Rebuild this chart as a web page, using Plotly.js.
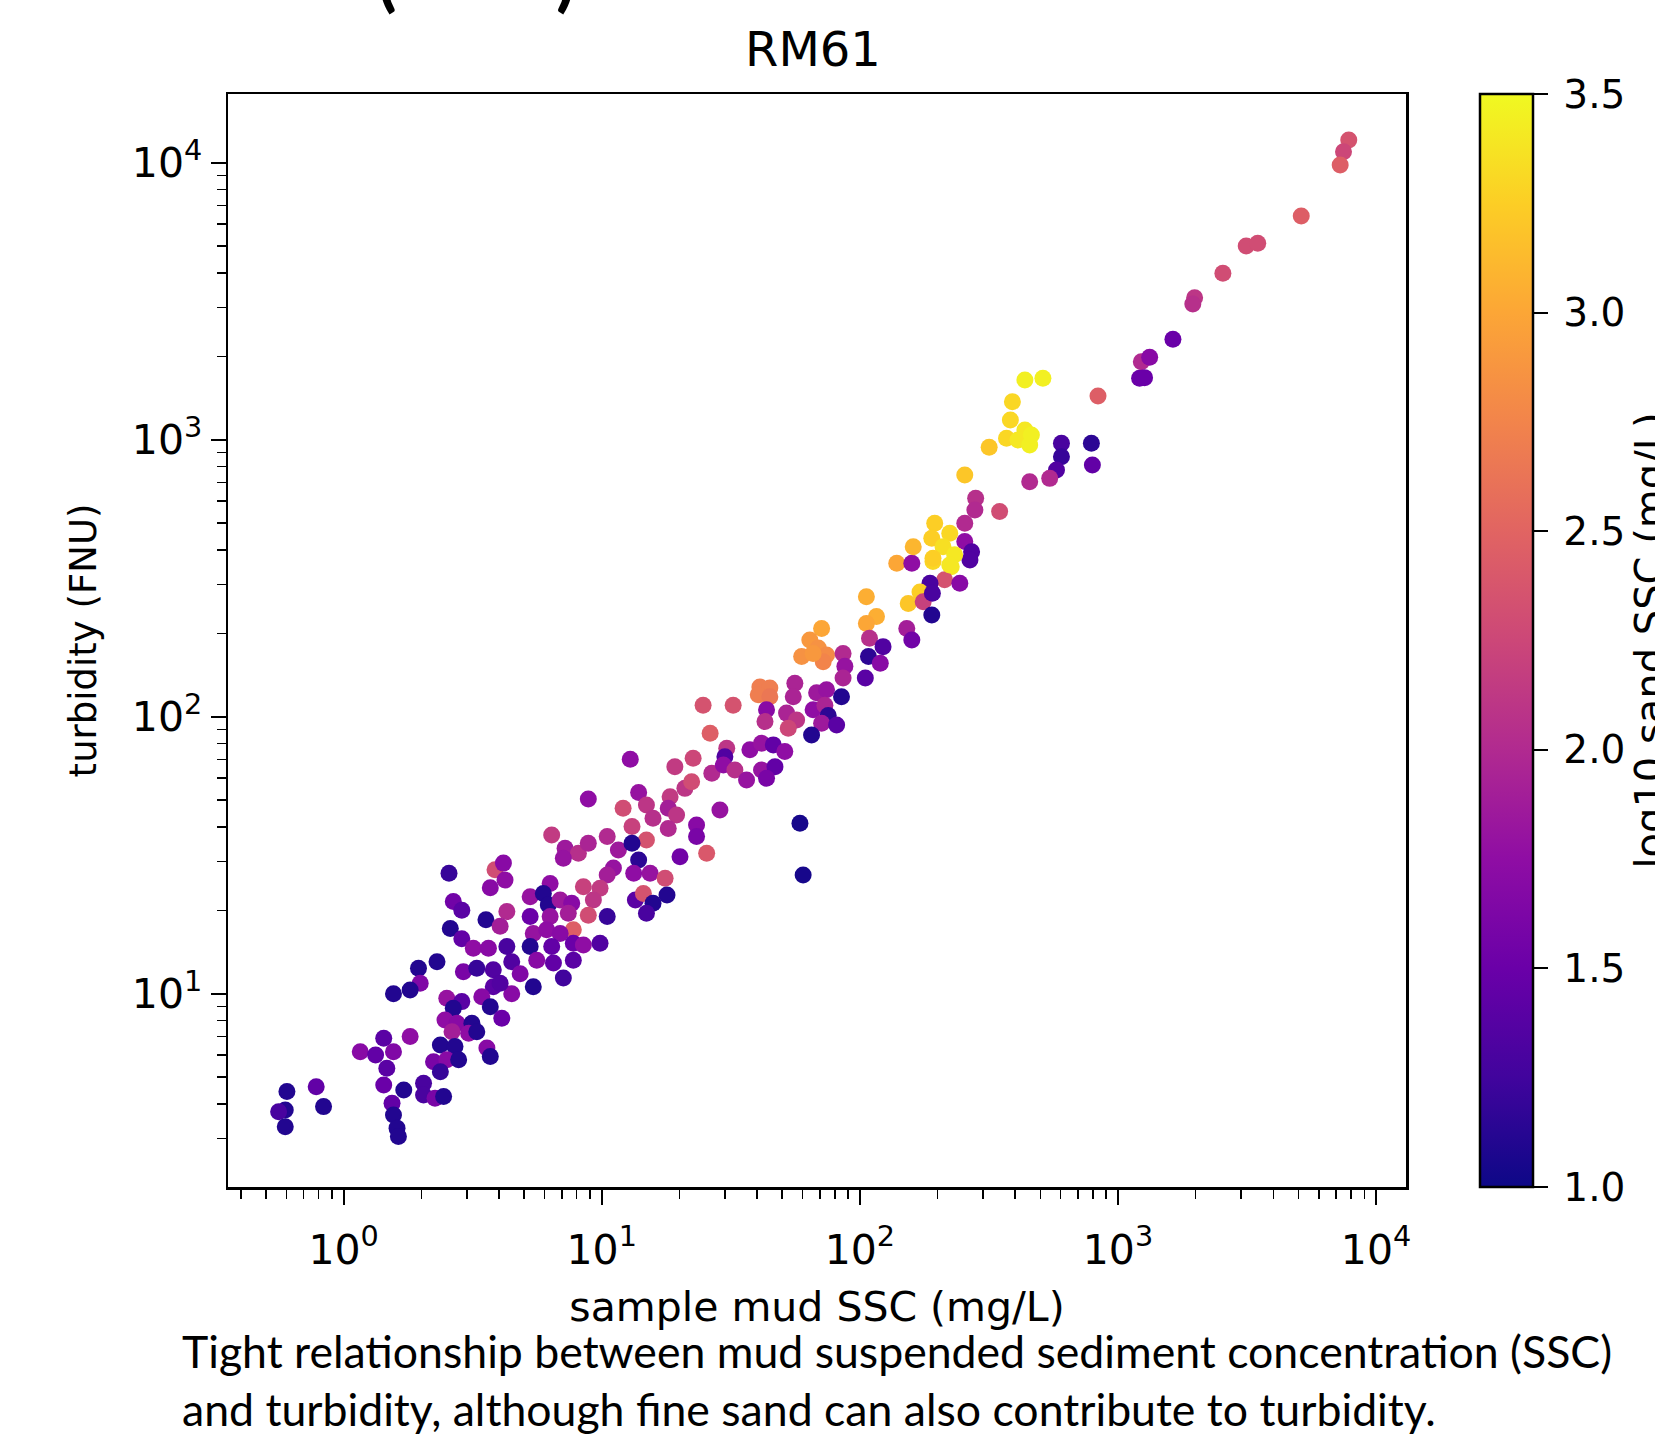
<!DOCTYPE html>
<html>
<head>
<meta charset="utf-8">
<script src="https://cdn.plot.ly/plotly-3.0.1.min.js"></script>
<style>
html,body{margin:0;padding:0;background:#ffffff;}
#chart{width:1655px;height:1437px;}
</style>
</head>
<body>
<div id="chart"></div>
<script>
// sample mud SSC (mg/L)
const mudSSC = [
  2.56,3.86,4.16,4.22,3.70,2.66,2.87,2.59,3.56,4.29,4.04,2.87,3.18,3.64,4.29,2.30,1.95,2.91,3.28,3.80,
  1.98,1.81,1.56,4.48,3.80,4.48,2.51,2.87,2.66,3.43,3.70,4.10,2.47,2.75,3.14,2.63,3.05,3.28,2.37,2.70,
  3.59,3.70,2.23,2.51,2.79,2.37,1.81,1.43,1.16,1.33,1.56,1.47,1.43,1.71,2.04,2.04,2.26,2.44,1.54,1.56,
  1.61,1.63,0.603,0.594,0.56,0.594,0.783,0.836,
  24.7,26.3,12.9,19.2,22.6,26.7,8.87,13.9,12.1,14.9,18.4,21.0,22.3,15.8,18.1,19.5,13.1,14.9,18.1,23.3,
  23.3,28.7,6.40,7.21,8.12,8.87,10.5,11.6,13.1,7.10,13.9,20.1,25.5,11.1,10.5,13.3,15.4,17.6,6.31,5.28,
  5.94,6.21,8.49,9.85,9.28,6.90,7.65,8.87,7.42,6.31,5.28,10.5,7.76,13.5,14.5,15.8,17.9,14.9,5.43,6.12,
  6.90,5.28,6.40,7.76,8.49,9.85,5.60,6.50,7.76,4.83,7.10,5.43,4.04,
  139,159,192,226,213,187,244,171,154,176,190,191,106,116,106,152,159,109,123,108,
  120,105,71.1,64.0,69.0,59.5,74.3,72.1,86.1,87.5,86.1,65.9,56.0,41.0,44.8,40.4,44.8,55.2,68.0,74.3,
  84.9,65.9,73.2,75.4,43.5,42.9,52.0,56.9,52.8,71.1,81.3,65.0,32.3,30.5,30.0,37.5,41.6,46.2,51.2,29.6,
  32.8,36.4,41.6,46.9,43.5,58.6,60.3,
  1232,1213,436,512,837,390,383,436,370,410,455,462,317,604,604,789,796,578,544,455,
  255,281,279,348,255,195,223,190,161,255,271,267,210,233,192,223,
  7840,7480,7260,5130,3140,3480,2550,1982,1950,1633,1327,1268
];
// turbidity (FNU)
const turbidity = [
  27.2,28.0,29.6,25.7,24.1,21.5,20.0,17.2,18.5,19.8,17.5,15.8,14.6,14.6,14.8,13.05,12.35,12.0,12.35,12.2,
  10.9,10.3,10.0,13.05,10.6,10.0,9.62,9.36,8.86,9.75,8.97,8.15,8.04,7.82,7.82,7.29,7.20,7.29,6.53,6.44,
  6.36,5.93,5.68,5.77,5.77,5.22,7.0,6.90,6.17,6.01,6.17,5.38,4.68,4.49,4.75,4.31,4.19,4.25,4.02,3.65,
  3.27,3.05,4.43,3.80,3.75,3.31,4.61,3.91,
  110,87.1,70.2,66.0,70.8,62.5,50.4,53.2,46.7,48.0,51.4,55.1,58.2,43.0,46.7,44.2,40.1,35.9,39.5,40.6,
  36.9,46.0,37.4,33.5,32.1,34.9,36.9,33.0,34.9,30.8,30.4,31.2,32.1,28.4,26.8,27.2,27.2,26.1,25.0,22.4,
  23.0,20.9,24.3,24.0,21.8,21.8,21.2,19.2,19.5,19.0,19.0,19.0,17.0,21.8,23.0,21.2,22.7,19.5,16.5,17.0,
  16.5,14.8,14.8,15.2,15.0,15.2,13.2,12.9,13.2,11.8,11.4,10.6,10.9,
  358,358,363,348,312,303,303,282,256,260,233,279,271,230,217,208,189,192,179,165,
  156,138,208,189,177,165,167,158,169,152,138,169,132,128,127,120,118,118,122,125,
  118,106,110,101,106,96.0,103,97.3,90.8,94.6,93.3,85.9,110,76.9,71.7,75.9,80.2,79.1,74.8,66.9,
  64.2,59.1,64.2,66.0,59.9,41.2,26.8,
  1912,1666,1643,1666,1438,1371,1178,1084,1012,998,957,1040,939,970,868,970,810,777,725,705,
  746,614,557,550,499,499,459,441,411,429,394,368,411,384,373,353,
  12080,10960,9810,6420,5000,5120,3990,3256,3090,2304,1985,1675
];
// log10 sand SSC (mg/L)
const sandLogSSC = [
  1.2,2.3,1.7,1.75,1.7,1.55,1.4,1.1,1.1,2.0,1.9,1.45,1.75,1.7,1.3,1.1,1.1,1.6,1.2,1.35,
  1.65,1.1,1.1,1.35,1.4,1.7,1.8,1.4,1.1,1.7,1.1,1.5,1.75,1.7,1.1,1.9,1.75,1.1,1.1,1.1,
  1.7,1.1,1.6,1.7,1.1,1.2,1.75,1.4,1.7,1.45,1.65,1.4,1.5,1.1,1.3,1.3,1.6,1.1,1.45,1.1,
  1.1,1.1,1.1,1.1,1.3,1.1,1.45,1.1,
  2.35,2.45,1.75,2.15,2.25,2.0,1.75,1.8,2.3,2.1,2.15,2.1,2.3,2.05,1.9,2.1,2.2,2.35,2.0,1.7,
  1.6,1.8,2.15,1.85,2.05,1.95,2.0,1.85,1.1,1.8,1.15,1.55,2.4,1.8,1.9,1.75,1.8,2.3,1.75,1.8,
  1.1,1.1,2.2,2.15,2.1,1.85,1.7,2.3,1.9,1.8,1.5,1.2,2.45,1.4,2.35,1.1,1.1,1.3,1.8,1.75,
  1.7,1.1,1.45,1.5,1.75,1.35,1.7,1.45,1.4,1.65,1.25,1.1,1.35,
  3.0,1.75,3.3,3.4,2.35,1.3,1.7,3.25,3.2,2.2,1.1,1.3,3.05,3.05,3.0,1.9,1.55,2.05,1.35,1.15,
  1.7,1.4,3.0,2.9,2.85,2.85,2.8,2.75,2.0,1.8,1.95,2.9,1.95,2.7,2.7,2.7,2.65,1.95,1.85,1.8,
  1.1,1.75,1.95,1.15,1.7,2.05,1.95,2.1,2.25,1.85,1.4,1.1,2.35,2.1,1.35,1.75,1.8,1.45,1.75,1.75,
  2.05,1.8,1.8,1.45,1.6,1.05,1.05,
  2.0,1.5,3.45,3.45,2.45,3.3,3.3,3.4,3.3,3.4,3.45,3.45,3.2,1.3,1.2,1.15,1.45,1.35,2.0,2.0,
  3.2,2.05,2.0,2.3,2.0,3.25,3.3,3.25,3.1,1.75,1.35,1.35,3.35,3.4,3.25,3.4,
  2.35,2.25,2.45,2.45,2.3,2.3,2.3,2.1,2.05,1.5,1.7,1.5
];

const xTickVals = [1, 10, 100, 1000, 10000];
const xTickText = ['10<sup>0</sup>', '10<sup>1</sup>', '10<sup>2</sup>', '10<sup>3</sup>', '10<sup>4</sup>'];
const yTickVals = [10, 100, 1000, 10000];
const yTickText = ['10<sup>1</sup>', '10<sup>2</sup>', '10<sup>3</sup>', '10<sup>4</sup>'];
const cbTickVals = [1.0, 1.5, 2.0, 2.5, 3.0, 3.5];
const cbTickText = ['1.0', '1.5', '2.0', '2.5', '3.0', '3.5'];

// minor tick positions (2..9 within each decade)
function minorTicks(kmin, kmax) {
  const out = [];
  for (let k = kmin; k <= kmax; k++) {
    for (let d = 2; d <= 9; d++) out.push(d * Math.pow(10, k));
  }
  return out;
}

const plasma = [
  [0.0, '#0d0887'], [0.1, '#41049d'], [0.2, '#6a00a8'], [0.3, '#8f0da4'],
  [0.4, '#b12a90'], [0.5, '#cc4778'], [0.6, '#e16462'], [0.7, '#f2844b'],
  [0.8, '#fca636'], [0.9, '#fcce25'], [1.0, '#f0f921']
];

const FONT = 'DejaVu Sans, sans-serif';

const trace = {
  type: 'scatter',
  mode: 'markers',
  x: mudSSC,
  y: turbidity,
  marker: {
    size: 17,
    color: sandLogSSC,
    colorscale: plasma,
    cmin: 1.0,
    cmax: 3.5,
    line: {width: 0},
    opacity: 1,
    colorbar: {
      x: 1.0628, xanchor: 'left', xpad: 0,
      y: 0.5, yanchor: 'middle', ypad: 0,
      len: 1, lenmode: 'fraction',
      thickness: 53,
      outlinewidth: 2.5, outlinecolor: '#000',
      tickmode: 'array', tickvals: cbTickVals,
      ticktext: cbTickText.map(t => '\u2009' + t),
      ticks: 'outside', ticklen: 14, tickwidth: 2, tickcolor: '#000',
      tickfont: {family: FONT, size: 39, color: '#000'},
      title: {text: 'log10 sand SSC (mg/L)', side: 'right', font: {family: FONT, size: 40, color: '#000'}}
    }
  },
  hoverinfo: 'x+y',
  showlegend: false
};

const axisCommon = {
  type: 'log',
  showline: true, linewidth: 2.5, linecolor: '#000', mirror: true,
  showgrid: false, zeroline: false,
  ticks: 'outside', ticklen: 15, tickwidth: 2, tickcolor: '#000',
  tickfont: {family: FONT, size: 41, color: '#000'},
  tickmode: 'array'
};

const layout = {
  width: 1655, height: 1437,
  paper_bgcolor: '#fff', plot_bgcolor: '#fff',
  margin: {l: 228, r: 249, t: 94, b: 250, autoexpand: false},
  font: {family: FONT, color: '#000'},
  title: {
    text: 'RM61', x: 0.4966, xref: 'paper', xanchor: 'center',
    y: 0.966, yref: 'container', yanchor: 'middle',
    font: {family: FONT, size: 48, color: '#000'}
  },
  xaxis: Object.assign({}, axisCommon, {
    range: [-0.448, 4.116],
    tickvals: xTickVals, ticktext: xTickText,
    ticklabelstandoff: 10,
    minor: {tickmode: 'array', tickvals: minorTicks(-1, 3), ticks: 'outside', ticklen: 9, tickwidth: 1.5, tickcolor: '#000', showgrid: false},
    title: {text: 'sample mud SSC (mg/L)', standoff: 20, font: {family: FONT, size: 41, color: '#000'}}
  }),
  yaxis: Object.assign({}, axisCommon, {
    range: [0.302, 4.248],
    tickvals: yTickVals, ticktext: yTickText,
    minor: {tickmode: 'array', tickvals: minorTicks(0, 3), ticks: 'outside', ticklen: 9, tickwidth: 1.5, tickcolor: '#000', showgrid: false},
    title: {text: 'turbidity (FNU)', standoff: 24, font: {family: FONT, size: 37, color: '#000'}}
  }),
  annotations: [
    {
      text: 'Tight relationship between mud suspended sediment concentration (SSC)<br>and turbidity, although fine sand can also contribute to turbidity.',
      xref: 'paper', yref: 'paper', x: -0.0409, y: -0.1765,
      xanchor: 'left', yanchor: 'middle', align: 'left', showarrow: false,
      font: {family: 'Lato, sans-serif', size: 44.6, color: '#000'}
    },
    {
      text: '(', xref: 'paper', yref: 'paper', x: 0.135, y: 1.0677,
      xanchor: 'center', yanchor: 'bottom', showarrow: false,
      font: {family: 'Lato, sans-serif', size: 72, color: '#000', weight: 'bold'}
    },
    {
      text: ')', xref: 'paper', yref: 'paper', x: 0.2869, y: 1.0677,
      xanchor: 'center', yanchor: 'bottom', showarrow: false,
      font: {family: 'Lato, sans-serif', size: 72, color: '#000', weight: 'bold'}
    }
  ]
};

Plotly.newPlot('chart', [trace], layout, {displayModeBar: false, staticPlot: true});
</script>
</body>
</html>
